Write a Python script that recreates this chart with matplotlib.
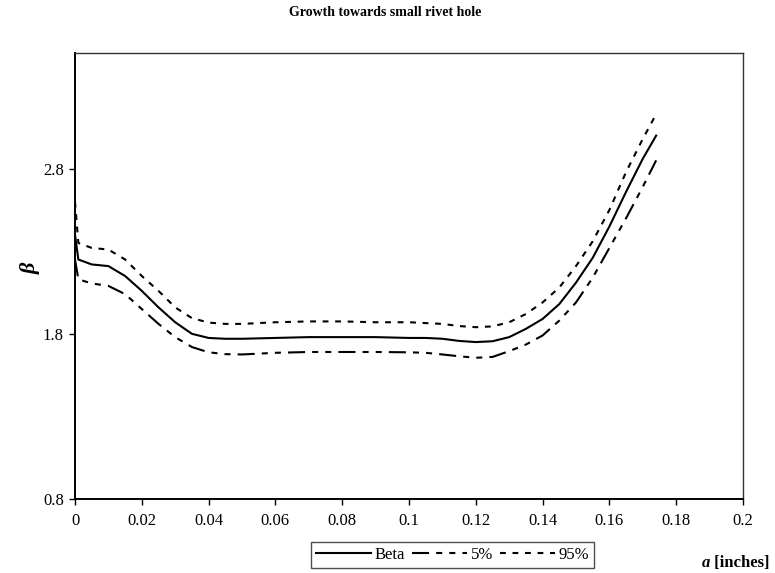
import matplotlib
matplotlib.use("Agg")
import matplotlib.pyplot as plt

# ---- data ----
a_vals = [0.0, 0.001, 0.005, 0.01, 0.015, 0.02, 0.025, 0.03, 0.035, 0.04, 0.045,
          0.05, 0.06, 0.07, 0.08, 0.09, 0.1, 0.105, 0.11, 0.115, 0.12, 0.125,
          0.13, 0.135, 0.14, 0.145, 0.15, 0.155, 0.16, 0.165, 0.17, 0.174]
beta = [2.40, 2.25, 2.22, 2.21, 2.15, 2.06, 1.96, 1.87, 1.80, 1.775, 1.77,
        1.77, 1.775, 1.78, 1.78, 1.78, 1.775, 1.775, 1.77, 1.757, 1.75, 1.755,
        1.78, 1.83, 1.89, 1.98, 2.11, 2.26, 2.45, 2.66, 2.86, 3.0]
p5 = [2.25, 2.13, 2.105, 2.09, 2.04, 1.95, 1.86, 1.78, 1.72, 1.688, 1.677,
      1.675, 1.685, 1.69, 1.69, 1.69, 1.688, 1.685, 1.675, 1.664, 1.655, 1.66,
      1.695, 1.735, 1.79, 1.88, 1.99, 2.14, 2.32, 2.50, 2.69, 2.85]
p95 = [2.60, 2.35, 2.32, 2.31, 2.25, 2.15, 2.06, 1.96, 1.895, 1.868, 1.86,
       1.86, 1.87, 1.875, 1.875, 1.87, 1.87, 1.865, 1.86, 1.847, 1.84, 1.845,
       1.87, 1.92, 1.99, 2.08, 2.21, 2.36, 2.55, 2.78, 2.98, 3.13]
series_labels = ["Beta", "5%", "95%"]
x_ticks = [0, 0.02, 0.04, 0.06, 0.08, 0.1, 0.12, 0.14, 0.16, 0.18, 0.2]
x_tick_labels = ["0", "0.02", "0.04", "0.06", "0.08", "0.1", "0.12", "0.14", "0.16", "0.18", "0.2"]
y_ticks = [0.8, 1.8, 2.8]
y_tick_labels = ["0.8", "1.8", "2.8"]
title = "Growth towards small rivet hole"

plt.rcParams['font.family'] = ['Liberation Serif', 'DejaVu Serif']

fig = plt.figure(figsize=(7.75, 5.73), dpi=100)
ax = fig.add_axes([75/775, 1-499/573, (743-75)/775, (499-53)/573])

lw = 1.5
l1, = ax.plot(a_vals, beta, color='black', lw=lw, ls='-', label=series_labels[0],
              solid_joinstyle='round')
l2, = ax.plot(a_vals, p5, color='black', lw=lw, ls=(0, (8.2, 3.4, 2.9, 3.4, 2.9, 3.4)),
              label=series_labels[1])
l3, = ax.plot(a_vals, p95, color='black', lw=lw, ls=(0, (2.8, 3.2)), label=series_labels[2])

ax.set_xlim(0, 0.2)
ax.set_ylim(0.8, 3.5)
ax.set_xticks(x_ticks)
ax.set_xticklabels(x_tick_labels)
ax.set_yticks(y_ticks)
ax.set_yticklabels(y_tick_labels)
ax.tick_params(axis='both', direction='out', length=4, width=1, labelsize=12, colors='black')
ax.tick_params(axis='x', pad=6)
ax.tick_params(axis='y', pad=4)
for s in ['left', 'bottom']:
    ax.spines[s].set_linewidth(1.4)
    ax.spines[s].set_color('black')
for s in ['top', 'right']:
    ax.spines[s].set_linewidth(1.0)
    ax.spines[s].set_color('#333333')

fig.text(385/775, 1-13/573, title, ha='center', va='center', fontsize=10, fontweight='bold')
fig.text(31/775, 1-268/573, "β", rotation=90, ha='center', va='center',
         fontsize=16, fontweight='bold', fontstyle='italic')
t = fig.text(770/775, 1-563/573, " [inches]", ha='right', va='center', fontsize=12,
             fontweight='bold')
fig.canvas.draw()
bb = t.get_window_extent()
fig.text(bb.x0 / fig.bbox.width, 1-563/573, "a", ha='right', va='center', fontsize=12,
         fontweight='bold', style='italic')

leg = fig.legend(handles=[l1, l2, l3], loc='upper left', bbox_to_anchor=(311/775, 1-542/573),
                 ncol=3, frameon=True, fancybox=False, fontsize=12, handlelength=3.3,
                 handletextpad=0.2, columnspacing=0.45, borderpad=0.3, borderaxespad=0)
leg.get_frame().set_edgecolor('#222222')
leg.get_frame().set_linewidth(1.0)

fig.savefig("out.png", dpi=100)
